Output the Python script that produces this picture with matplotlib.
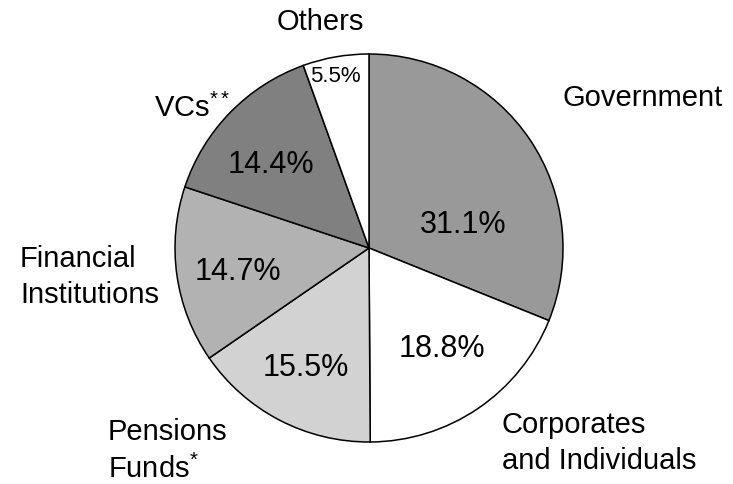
import matplotlib.pyplot as plt
import numpy as np

plt.rcParams['font.family'] = ['Liberation Sans', 'DejaVu Sans']
plt.rcParams['mathtext.fontset'] = 'custom'
plt.rcParams['mathtext.rm'] = 'Liberation Sans'
plt.rcParams['mathtext.it'] = 'Liberation Sans'

# data, clockwise from 12 o'clock
labels = ['Government', 'Corporates\nand Individuals', 'Pensions\nFunds$^{\\mathrm{*}}$',
          'Financial\nInstitutions', 'VCs$^{\\mathrm{**}}$', 'Others']
shares = [31.1, 18.8, 15.5, 14.7, 14.4, 5.5]
colors = ['#999999', '#ffffff', '#d2d2d2', '#b2b2b2', '#808080', '#ffffff']

# layout (pixel coords, y down)
W, H = 733, 485
cx, cy, R = 369, 249, 194
pct_pos = [(463, 225), (442, 349), (306, 368), (238, 272), (271, 165), (335, 77)]
pct_size = [22, 22, 22, 22, 22, 16]
lab_pos = [(563, 98), (502, 443), (108, 451), (20, 277), (154, 108), (320, 22)]
lab_ha = ['left', 'left', 'left', 'left', 'left', 'center']

fig = plt.figure(figsize=(W / 100, H / 100), dpi=100)
ax = fig.add_axes([0, 0, 1, 1])

# y axis is inverted, so counterclock=True draws clockwise on screen
ax.pie(shares, colors=colors, startangle=-90, counterclock=True,
       center=(cx, cy), radius=R, frame=True,
       wedgeprops=dict(edgecolor='black', linewidth=1.1))
ax.set_xlim(0, W)
ax.set_ylim(H, 0)
ax.set_aspect('equal')
ax.axis('off')

for v, (x, y), s in zip(shares, pct_pos, pct_size):
    ax.text(x, y, f'{v:.1f}%', fontsize=s, ha='center', va='center')

for lab, (x, y), ha in zip(labels, lab_pos, lab_ha):
    ax.text(x, y, lab, fontsize=21, ha=ha, va='center', linespacing=1.35)

fig.savefig('out.png', dpi=100)
